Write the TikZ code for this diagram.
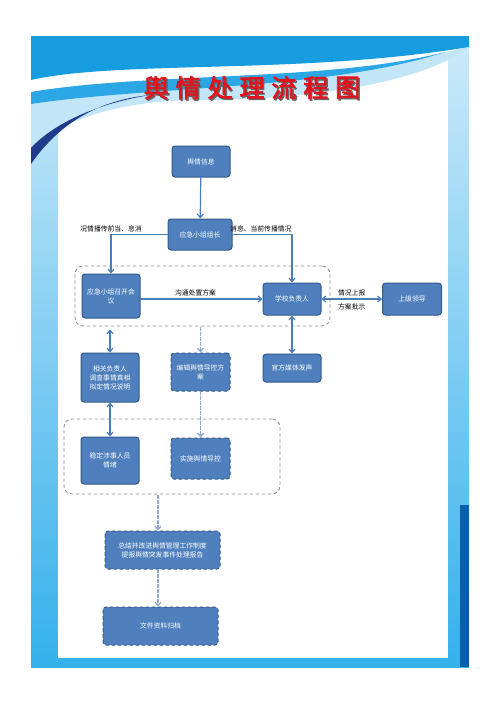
\documentclass[tikz,border=0pt]{standalone}
\usepackage{fontspec}
\setmainfont{Noto Sans CJK SC}
\newfontfamily\titlefont[FakeBold=2.5]{Noto Sans CJK SC}
\usetikzlibrary{arrows.meta,positioning,calc}
\definecolor{skyband}{HTML}{189CE0}
\definecolor{skystripe}{HTML}{2BA7E6}
\definecolor{skypale}{HTML}{C3E5F8}
\definecolor{navy}{HTML}{203B8C}
\definecolor{rimtop}{HTML}{CDEAF9}
\definecolor{rimbot}{HTML}{35B1EC}
\definecolor{rimdeep}{HTML}{0A5FA8}
\definecolor{boxfill}{HTML}{4F80BD}
\definecolor{boxedge}{HTML}{34598C}
\definecolor{linkblue}{HTML}{4A7DBA}
\definecolor{dashblue}{HTML}{8DA7CD}
\definecolor{grpgray}{HTML}{8A9099}
\definecolor{titlered}{HTML}{E2121D}
\newcommand{\shadowchar}[1]{\makebox[0pt][l]{\hspace{1.5pt}\raisebox{-1.5pt}{\textcolor{black!60}{#1}}}#1}
\begin{document}
\begin{tikzpicture}[x=1pt, y=-1pt, line cap=round,
  box/.style={fill=boxfill, draw=boxedge, line width=1pt, rounded corners=3pt,
    text=white, font=\fontsize{6.8}{9}\selectfont, align=center, inner sep=1pt},
  dbox/.style={box, dashed},
  grp/.style={draw=grpgray, dashed, line width=0.9pt, rounded corners=8pt},
  link/.style={draw=linkblue, line width=1.2pt, -{Straight Barb[length=3.5pt,width=6pt]}},
  dlink/.style={draw=dashblue, line width=1.2pt, dash pattern=on 3pt off 2pt, -{Straight Barb[length=3.5pt,width=6pt]}},
  lbl/.style={font=\fontsize{6.8}{9}\selectfont, text=black, inner sep=2pt},
  ttl/.style={font=\titlefont\fontsize{25}{27}\selectfont, inner sep=0pt, text=titlered}]
  \useasboundingbox (0,0) rectangle (500,707);
  % poster frame
  \fill[white] (0,0) rectangle (500,707);
  \shade[top color=rimtop, bottom color=rimbot] (31,36) rectangle (469,667);
  \fill[white] (58,60) rectangle (448,658);
  \fill[rimdeep] (460,505) rectangle (469,667);
  \fill[skypale] (31,36) -- (469,36) -- (469,47) .. controls (420,85) and (300,100) .. (200,100)
    .. controls (120,100) and (60,120) .. (31,150) -- cycle;
  \fill[white] (31,36) -- (469,36) -- (469,47) -- (445,52) .. controls (330,82) and (150,72) .. (31,92) -- cycle;
  \fill[skystripe] (31,92) .. controls (150,72) and (330,82) .. (445,52)
    .. controls (330,90) and (150,86) .. (31,104) -- cycle;
  \fill[skyband] (31,36) -- (469,36) -- (469,47) .. controls (300,75) and (120,60) .. (31,80) -- cycle;
  \fill[navy] (31,164) .. controls (60,122) and (100,100) .. (150,95)
    .. controls (100,103) and (55,122) .. (31,148) -- cycle;
  % title
  \foreach \c [count=\i from 0] in {舆,情,处,理,流,程,图}
    {\node[ttl] (t\i) at (156.3+31.9*\i,88.5) {\shadowchar{\c}};}
  % dashed groups
  \node[grp, minimum width=255pt, minimum height=60pt] (g1) at (202.5,296) {};
  \node[grp, minimum width=216pt, minimum height=75pt] (g2) at (172,456.5) {};
  % boxes
  \node[box, minimum width=58pt, minimum height=31pt] (info) at (201,161.5) {舆情信息};
  \node[box, minimum width=64pt, minimum height=31pt] (leader) at (200,234.5) {应急小组组长};
  \node[box, minimum width=58pt, minimum height=44pt] (meet) at (111,296) {应急小组召开会\\议};
  \node[box, minimum width=58pt, minimum height=32pt] (head) at (292,299) {学校负责人};
  \node[box, minimum width=59pt, minimum height=32pt] (upper) at (412,299) {上级领导};
  \node[box, minimum width=58pt, minimum height=49pt] (resp) at (110,377.5) {相关负责人\\调查事情真相\\拟定情况说明};
  \node[dbox, minimum width=59pt, minimum height=38pt] (edit) at (200.5,372) {编辑舆情导控方\\案};
  \node[box, minimum width=58pt, minimum height=28pt] (media) at (292,368) {官方媒体发声};
  \node[box, minimum width=58pt, minimum height=47pt] (calm) at (110,460.5) {稳定涉事人员\\情绪};
  \node[dbox, minimum width=59pt, minimum height=41pt] (apply) at (200.5,458.5) {实施舆情导控};
  \node[dbox, minimum width=115pt, minimum height=38pt] (sum) at (162.5,550) {总结并改进舆情管理工作制度\\提报舆情突发事件处理报告};
  \node[dbox, minimum width=115pt, minimum height=38pt] (file) at (160.5,626) {文件资料归档};
  % connectors
  \draw[link] (info) -- (leader);
  \draw[link] (leader.west) -| node[lbl, above, pos=0.5] {况情播传前当、息消} (meet.north);
  \draw[link] (leader.east) -| node[lbl, above left, pos=0.5, inner xsep=0pt] {消息、当前传播情况} (head.north);
  \draw[link] (meet.east |- head.west) -- node[lbl, above, xshift=-6pt] {沟通处置方案} (head.west);
  \draw[link, {Straight Barb[length=3.5pt,width=6pt]}-{Straight Barb[length=3.5pt,width=6pt]}] (head.east)
    -- node[lbl, above] {情况上报} node[lbl, below, yshift=-2pt] {方案批示} (upper.west);
  \draw[link, {Straight Barb[length=3.5pt,width=6pt]}-{Straight Barb[length=3.5pt,width=6pt]}]
    ($(g1.south -| resp.north)+(0,3)$) -- (resp.north);
  \draw[link, {Straight Barb[length=3.5pt,width=6pt]}-{Straight Barb[length=3.5pt,width=6pt]}] (head.south) -- (media.north);
  \draw[link, {Straight Barb[length=3.5pt,width=6pt]}-{Straight Barb[length=3.5pt,width=6pt]}] (resp.south) -- (calm.north);
  \draw[dlink] ($(g1.south -| edit.north)+(0,1)$) -- (edit.north);
  \draw[dlink] (edit.south) -- (apply.north);
  \draw[dlink] ($(g2.south -| sum.north)+(-4.5,1)$) -- ($(sum.north)+(-4.5,0)$);
  \draw[dlink] ($(sum.south)+(-4.5,0)$) -- ($(file.north)+(-2.5,0)$);
\end{tikzpicture}
\end{document}
